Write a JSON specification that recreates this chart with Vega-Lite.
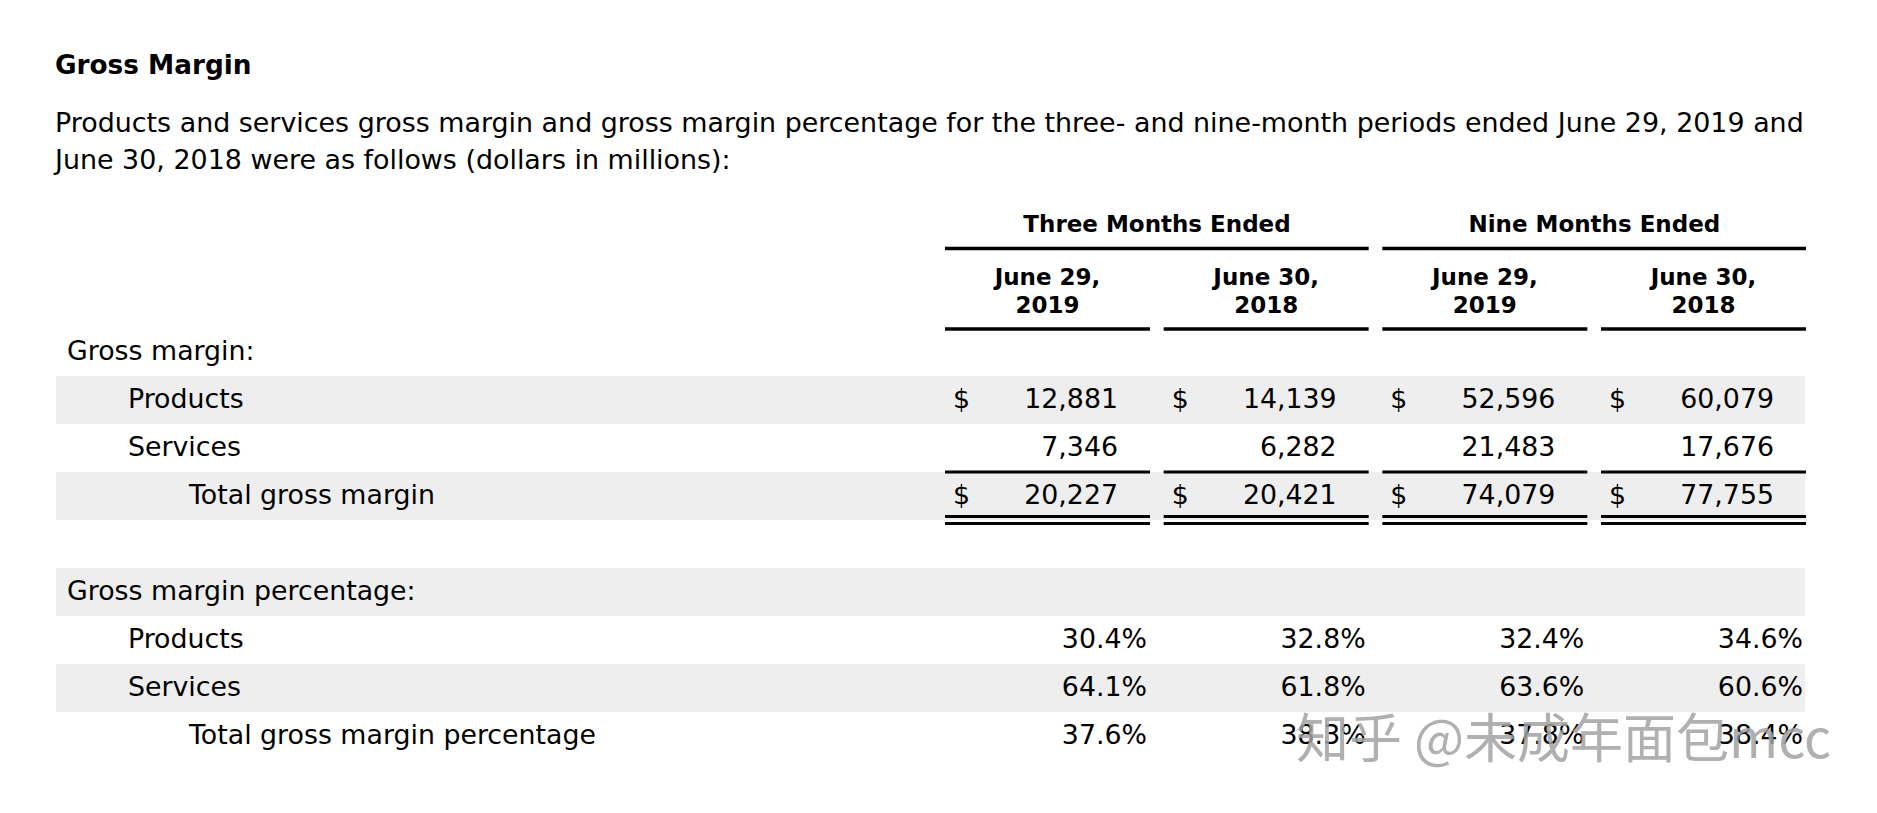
{
  "$schema": "https://vega.github.io/schema/vega-lite/v6.json",
  "autosize": "none",
  "width": 1822,
  "height": 633,
  "padding": {"left": 55, "top": 180, "right": 0, "bottom": 0},
  "background": "#ffffff",
  "title": {
    "text": "Gross Margin",
    "subtitle": ["Products and services gross margin and gross margin percentage for the three- and nine-month periods ended June 29, 2019 and", "June 30, 2018 were as follows (dollars in millions):"],
    "anchor": "start",
    "frame": "group",
    "orient": "top",
    "offset": 6.5,
    "font": "DejaVu Sans",
    "fontSize": 26.3,
    "fontWeight": "bold",
    "color": "#000000",
    "subtitleFont": "DejaVu Sans",
    "subtitleFontSize": 26.9,
    "subtitleColor": "#000000",
    "subtitleLineHeight": 37,
    "subtitlePadding": 31.3
  },
  "config": {
    "view": {"stroke": null},
    "text": {"font": "DejaVu Sans", "fontSize": 26.8, "color": "#000000"}
  },
  "datasets": {
    "rowlabels": [
      {"row": "gm_label", "label": "Gross margin:", "indent": 0, "shaded": false},
      {"row": "gm_products", "label": "Products", "indent": 1, "shaded": true},
      {"row": "gm_services", "label": "Services", "indent": 1, "shaded": false},
      {"row": "gm_total", "label": "Total gross margin", "indent": 2, "shaded": true},
      {"row": "gmp_label", "label": "Gross margin percentage:", "indent": 0, "shaded": true},
      {"row": "gmp_products", "label": "Products", "indent": 1, "shaded": false},
      {"row": "gmp_services", "label": "Services", "indent": 1, "shaded": true},
      {"row": "gmp_total", "label": "Total gross margin percentage", "indent": 2, "shaded": false}
    ],
    "periods": [
      {"period": "3M 2019", "date": "June 29,\n2019"},
      {"period": "3M 2018", "date": "June 30,\n2018"},
      {"period": "9M 2019", "date": "June 29,\n2019"},
      {"period": "9M 2018", "date": "June 30,\n2018"}
    ],
    "groups": [
      {"group": "Three Months Ended", "from": "3M 2019", "to": "3M 2018"},
      {"group": "Nine Months Ended", "from": "9M 2019", "to": "9M 2018"}
    ],
    "cells": [
      {"row": "gm_products", "period": "3M 2019", "value": 12881, "kind": "dollars", "dollar": true},
      {"row": "gm_products", "period": "3M 2018", "value": 14139, "kind": "dollars", "dollar": true},
      {"row": "gm_products", "period": "9M 2019", "value": 52596, "kind": "dollars", "dollar": true},
      {"row": "gm_products", "period": "9M 2018", "value": 60079, "kind": "dollars", "dollar": true},
      {"row": "gm_services", "period": "3M 2019", "value": 7346, "kind": "dollars", "dollar": false},
      {"row": "gm_services", "period": "3M 2018", "value": 6282, "kind": "dollars", "dollar": false},
      {"row": "gm_services", "period": "9M 2019", "value": 21483, "kind": "dollars", "dollar": false},
      {"row": "gm_services", "period": "9M 2018", "value": 17676, "kind": "dollars", "dollar": false},
      {"row": "gm_total", "period": "3M 2019", "value": 20227, "kind": "dollars", "dollar": true},
      {"row": "gm_total", "period": "3M 2018", "value": 20421, "kind": "dollars", "dollar": true},
      {"row": "gm_total", "period": "9M 2019", "value": 74079, "kind": "dollars", "dollar": true},
      {"row": "gm_total", "period": "9M 2018", "value": 77755, "kind": "dollars", "dollar": true},
      {"row": "gmp_products", "period": "3M 2019", "value": 0.304, "kind": "pct", "dollar": false},
      {"row": "gmp_products", "period": "3M 2018", "value": 0.328, "kind": "pct", "dollar": false},
      {"row": "gmp_products", "period": "9M 2019", "value": 0.324, "kind": "pct", "dollar": false},
      {"row": "gmp_products", "period": "9M 2018", "value": 0.346, "kind": "pct", "dollar": false},
      {"row": "gmp_services", "period": "3M 2019", "value": 0.641, "kind": "pct", "dollar": false},
      {"row": "gmp_services", "period": "3M 2018", "value": 0.618, "kind": "pct", "dollar": false},
      {"row": "gmp_services", "period": "9M 2019", "value": 0.636, "kind": "pct", "dollar": false},
      {"row": "gmp_services", "period": "9M 2018", "value": 0.606, "kind": "pct", "dollar": false},
      {"row": "gmp_total", "period": "3M 2019", "value": 0.376, "kind": "pct", "dollar": false},
      {"row": "gmp_total", "period": "3M 2018", "value": 0.383, "kind": "pct", "dollar": false},
      {"row": "gmp_total", "period": "9M 2019", "value": 0.378, "kind": "pct", "dollar": false},
      {"row": "gmp_total", "period": "9M 2018", "value": 0.384, "kind": "pct", "dollar": false}
    ],
    "watermark": [{"text": "知乎 @未成年面包mcc"}]
  },
  "resolve": {"scale": {"x": "independent"}},
  "layer": [
    {
      "data": {"name": "rowlabels"},
      "transform": [{"filter": "datum.shaded"}],
      "mark": {"type": "rect", "color": "#eeeeee", "xOffset": -1094, "x2Offset": -1, "yOffset": -24, "y2Offset": 24},
      "encoding": {
        "x": {"datum": "3M 2019", "type": "nominal", "axis": null, "scale": {"type": "point", "domain": ["3M 2019", "3M 2018", "9M 2019", "9M 2018"], "range": [1095, 1751], "padding": 0}},
        "x2": {"datum": "9M 2018"},
        "y": {"field": "row", "type": "nominal", "axis": null, "scale": {"type": "point", "domain": ["gm_label", "gm_products", "gm_services", "gm_total", "blank", "gmp_label", "gmp_products", "gmp_services", "gmp_total"], "range": [172, 556], "padding": 0}},
        "y2": {"field": "row"}
      }
    },
    {
      "data": {"name": "groups"},
      "mark": {"type": "rule", "color": "#000000", "strokeWidth": 3.5, "xOffset": -205, "yOffset": -103.5},
      "encoding": {
        "x": {"field": "from", "type": "nominal", "axis": null, "scale": {"type": "point", "domain": ["3M 2019", "3M 2018", "9M 2019", "9M 2018"], "range": [1095, 1751], "padding": 0}},
        "x2": {"field": "to"},
        "y": {"datum": "gm_label", "type": "nominal", "axis": null, "scale": {"type": "point", "domain": ["gm_label", "gm_products", "gm_services", "gm_total", "blank", "gmp_label", "gmp_products", "gmp_services", "gmp_total"], "range": [172, 556], "padding": 0}}
      }
    },
    {
      "data": {"name": "periods"},
      "mark": {"type": "rule", "color": "#000000", "strokeWidth": 3.5, "xOffset": -205, "yOffset": -23},
      "encoding": {
        "x": {"field": "period", "type": "nominal", "axis": null, "scale": {"type": "point", "domain": ["3M 2019", "3M 2018", "9M 2019", "9M 2018"], "range": [1095, 1751], "padding": 0}},
        "x2": {"field": "period"},
        "y": {"datum": "gm_label", "type": "nominal", "axis": null, "scale": {"type": "point", "domain": ["gm_label", "gm_products", "gm_services", "gm_total", "blank", "gmp_label", "gmp_products", "gmp_services", "gmp_total"], "range": [172, 556], "padding": 0}}
      }
    },
    {
      "data": {"name": "periods"},
      "mark": {"type": "rule", "color": "#000000", "strokeWidth": 3, "xOffset": -205, "yOffset": -24},
      "encoding": {
        "x": {"field": "period", "type": "nominal", "axis": null, "scale": {"type": "point", "domain": ["3M 2019", "3M 2018", "9M 2019", "9M 2018"], "range": [1095, 1751], "padding": 0}},
        "x2": {"field": "period"},
        "y": {"datum": "gm_total", "type": "nominal", "axis": null, "scale": {"type": "point", "domain": ["gm_label", "gm_products", "gm_services", "gm_total", "blank", "gmp_label", "gmp_products", "gmp_services", "gmp_total"], "range": [172, 556], "padding": 0}}
      }
    },
    {
      "data": {"name": "periods"},
      "mark": {"type": "rule", "color": "#000000", "strokeWidth": 3, "xOffset": -205, "yOffset": 20.5},
      "encoding": {
        "x": {"field": "period", "type": "nominal", "axis": null, "scale": {"type": "point", "domain": ["3M 2019", "3M 2018", "9M 2019", "9M 2018"], "range": [1095, 1751], "padding": 0}},
        "x2": {"field": "period"},
        "y": {"datum": "gm_total", "type": "nominal", "axis": null, "scale": {"type": "point", "domain": ["gm_label", "gm_products", "gm_services", "gm_total", "blank", "gmp_label", "gmp_products", "gmp_services", "gmp_total"], "range": [172, 556], "padding": 0}}
      }
    },
    {
      "data": {"name": "periods"},
      "mark": {"type": "rule", "color": "#000000", "strokeWidth": 3, "xOffset": -205, "yOffset": 27.5},
      "encoding": {
        "x": {"field": "period", "type": "nominal", "axis": null, "scale": {"type": "point", "domain": ["3M 2019", "3M 2018", "9M 2019", "9M 2018"], "range": [1095, 1751], "padding": 0}},
        "x2": {"field": "period"},
        "y": {"datum": "gm_total", "type": "nominal", "axis": null, "scale": {"type": "point", "domain": ["gm_label", "gm_products", "gm_services", "gm_total", "blank", "gmp_label", "gmp_products", "gmp_services", "gmp_total"], "range": [172, 556], "padding": 0}}
      }
    },
    {
      "data": {"name": "groups"},
      "mark": {"type": "text", "fontWeight": "bold", "fontSize": 23, "align": "center", "baseline": "alphabetic", "dx": 7, "dy": -120},
      "encoding": {
        "text": {"field": "group"},
        "x": {"field": "from", "type": "nominal", "axis": null, "scale": {"type": "point", "domain": ["3M 2019", "3M 2018", "9M 2019", "9M 2018"], "range": [1095, 1751], "padding": 0}},
        "y": {"datum": "gm_label", "type": "nominal", "axis": null, "scale": {"type": "point", "domain": ["gm_label", "gm_products", "gm_services", "gm_total", "blank", "gmp_label", "gmp_products", "gmp_services", "gmp_total"], "range": [172, 556], "padding": 0}}
      }
    },
    {
      "data": {"name": "periods"},
      "mark": {"type": "text", "fontWeight": "bold", "fontSize": 23, "align": "center", "baseline": "alphabetic", "lineBreak": "\n", "lineHeight": 28, "dx": -102.5, "dy": -67},
      "encoding": {
        "text": {"field": "date"},
        "x": {"field": "period", "type": "nominal", "axis": null, "scale": {"type": "point", "domain": ["3M 2019", "3M 2018", "9M 2019", "9M 2018"], "range": [1095, 1751], "padding": 0}},
        "y": {"datum": "gm_label", "type": "nominal", "axis": null, "scale": {"type": "point", "domain": ["gm_label", "gm_products", "gm_services", "gm_total", "blank", "gmp_label", "gmp_products", "gmp_services", "gmp_total"], "range": [172, 556], "padding": 0}}
      }
    },
    {
      "data": {"name": "rowlabels"},
      "mark": {"type": "text", "align": "left", "baseline": "alphabetic", "dy": 7.5},
      "encoding": {
        "text": {"field": "label"},
        "x": {"field": "indent", "type": "ordinal", "axis": null, "scale": {"type": "point", "domain": [0, 1, 2], "range": [12, 134], "padding": 0}},
        "y": {"field": "row", "type": "nominal", "axis": null, "scale": {"type": "point", "domain": ["gm_label", "gm_products", "gm_services", "gm_total", "blank", "gmp_label", "gmp_products", "gmp_services", "gmp_total"], "range": [172, 556], "padding": 0}}
      }
    },
    {
      "data": {"name": "cells"},
      "transform": [{"filter": "datum.kind === 'dollars'"}],
      "mark": {"type": "text", "align": "right", "baseline": "alphabetic", "dx": -32, "dy": 7.5},
      "encoding": {
        "text": {"field": "value", "type": "quantitative", "format": ","},
        "x": {"field": "period", "type": "nominal", "axis": null, "scale": {"type": "point", "domain": ["3M 2019", "3M 2018", "9M 2019", "9M 2018"], "range": [1095, 1751], "padding": 0}},
        "y": {"field": "row", "type": "nominal", "axis": null, "scale": {"type": "point", "domain": ["gm_label", "gm_products", "gm_services", "gm_total", "blank", "gmp_label", "gmp_products", "gmp_services", "gmp_total"], "range": [172, 556], "padding": 0}}
      }
    },
    {
      "data": {"name": "cells"},
      "transform": [{"filter": "datum.dollar"}],
      "mark": {"type": "text", "text": "$", "align": "left", "baseline": "alphabetic", "dx": -197, "dy": 7.5},
      "encoding": {
        "x": {"field": "period", "type": "nominal", "axis": null, "scale": {"type": "point", "domain": ["3M 2019", "3M 2018", "9M 2019", "9M 2018"], "range": [1095, 1751], "padding": 0}},
        "y": {"field": "row", "type": "nominal", "axis": null, "scale": {"type": "point", "domain": ["gm_label", "gm_products", "gm_services", "gm_total", "blank", "gmp_label", "gmp_products", "gmp_services", "gmp_total"], "range": [172, 556], "padding": 0}}
      }
    },
    {
      "data": {"name": "cells"},
      "transform": [{"filter": "datum.kind === 'pct'"}],
      "mark": {"type": "text", "align": "right", "baseline": "alphabetic", "dx": -3, "dy": 7.5},
      "encoding": {
        "text": {"field": "value", "type": "quantitative", "format": ".1%"},
        "x": {"field": "period", "type": "nominal", "axis": null, "scale": {"type": "point", "domain": ["3M 2019", "3M 2018", "9M 2019", "9M 2018"], "range": [1095, 1751], "padding": 0}},
        "y": {"field": "row", "type": "nominal", "axis": null, "scale": {"type": "point", "domain": ["gm_label", "gm_products", "gm_services", "gm_total", "blank", "gmp_label", "gmp_products", "gmp_services", "gmp_total"], "range": [172, 556], "padding": 0}}
      }
    },
    {
      "data": {"name": "watermark"},
      "mark": {"type": "text", "font": "Noto Sans CJK SC", "fontSize": 53, "color": "#a3a3a3", "opacity": 0.85, "align": "right", "baseline": "alphabetic", "dx": 25, "dy": 22},
      "encoding": {
        "text": {"field": "text"},
        "x": {"datum": "9M 2018", "type": "nominal", "axis": null, "scale": {"type": "point", "domain": ["3M 2019", "3M 2018", "9M 2019", "9M 2018"], "range": [1095, 1751], "padding": 0}},
        "y": {"datum": "gmp_total", "type": "nominal", "axis": null, "scale": {"type": "point", "domain": ["gm_label", "gm_products", "gm_services", "gm_total", "blank", "gmp_label", "gmp_products", "gmp_services", "gmp_total"], "range": [172, 556], "padding": 0}}
      }
    }
  ]
}
